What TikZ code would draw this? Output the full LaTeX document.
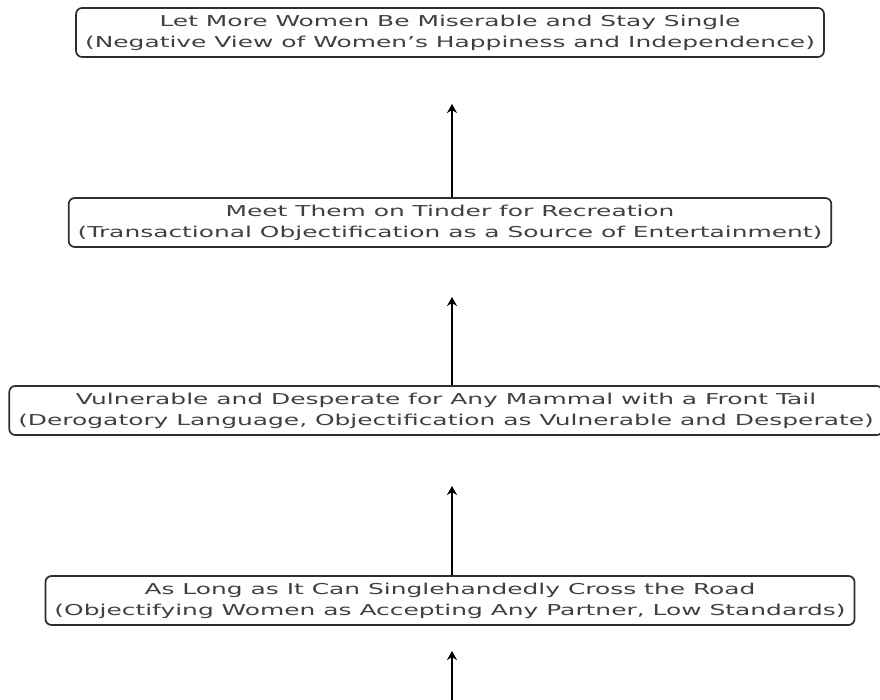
\documentclass[tikz,border=0pt]{standalone}
\usepackage{fontspec}
\setmainfont{DejaVu Sans}[FakeStretch=1.66]
\usetikzlibrary{arrows.meta}
\definecolor{mytext}{RGB}{64,64,64}
\definecolor{myedge}{RGB}{45,45,45}
\tikzset{
  box/.style={rectangle, draw=myedge, fill=white, align=center,
    rounded corners=6pt, line width=1.7pt, inner xsep=9pt, inner ysep=4pt,
    minimum height=49pt, font=\fontsize{15}{21}\selectfont, text=mytext},
  arrow/.style={-{Stealth[length=9pt,width=10pt]}, line width=2.4pt, color=black}
}
\begin{document}
\begin{tikzpicture}[x=1pt, y=-1pt]
  \useasboundingbox (0,0) rectangle (880,700);

  % Stages, from the outcome at the top down to the first claim
  \node[box] (single) at (450,32.5)
    {Let More Women Be Miserable and Stay Single\\
     (Negative View of Women’s Happiness and Independence)};
  \node[box] (tinder) at (450,222.5)
    {Meet Them on Tinder for Recreation\\
     (Transactional Objectification as a Source of Entertainment)};
  \node[box] (mammal) at (446,410.5)
    {Vulnerable and Desperate for Any Mammal with a Front Tail\\
     (Derogatory Language, Objectification as Vulnerable and Desperate)};
  \node[box] (road) at (450,600.5)
    {As Long as It Can Singlehandedly Cross the Road\\
     (Objectifying Women as Accepting Any Partner, Low Standards)};

  % Arrow tips stop short of the box above
  \coordinate (tipA) at (452,104);
  \coordinate (tipB) at (452,297);
  \coordinate (tipC) at (452,486);
  \coordinate (tipD) at (452,651);
  \coordinate (startD) at (452,710);

  \draw[arrow] (tinder.north -| tipA) -- (tipA);
  \draw[arrow] (mammal.north -| tipB) -- (tipB);
  \draw[arrow] (road.north -| tipC) -- (tipC);
  \draw[arrow] (startD) -- (tipD);
\end{tikzpicture}
\end{document}
